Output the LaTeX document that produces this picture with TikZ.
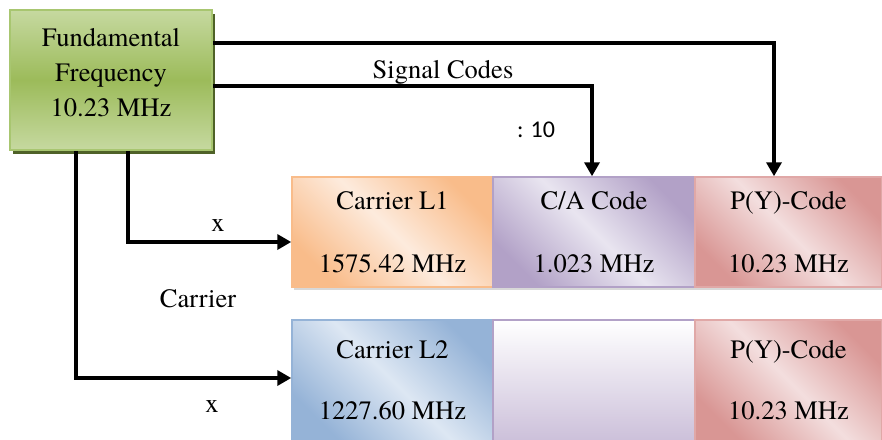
\documentclass[tikz,border=0pt]{standalone}
\usepackage{fontspec}
\IfFontExistsTF{texgyretermes-regular.otf}
  {\setmainfont{texgyretermes-regular.otf}}
  {\setmainfont{Latin Modern Roman}}
\newfontfamily\sansten{Carlito}
\usetikzlibrary{arrows.meta,shadows}
\definecolor{grnL}{HTML}{C6D9A0}
\definecolor{grnD}{HTML}{9CBB5A}
\definecolor{grnB}{HTML}{A8C670}
\definecolor{grnS}{HTML}{4F6228}
\definecolor{orD}{HTML}{F9BC8A}
\definecolor{orL}{HTML}{FDEBDD}
\definecolor{puD}{HTML}{B2A1C7}
\definecolor{puL}{HTML}{E9E5F0}
\definecolor{rdD}{HTML}{D99694}
\definecolor{rdL}{HTML}{F3DEDE}
\definecolor{rdB}{HTML}{E0A8A7}
\definecolor{blD}{HTML}{95B3D7}
\definecolor{blL}{HTML}{DDE7F3}
\definecolor{emB}{HTML}{CCC0DA}
\begin{document}
\begin{tikzpicture}[x=1pt,y=-1pt,
  font=\fontsize{26.5}{35}\selectfont,
  conn/.style={line width=4pt, line join=miter, -{Triangle[length=14pt,width=15pt]}},
  cellbox/.style={draw, line width=1.5pt, inner sep=0pt, align=center,
    minimum height=110pt, font=\fontsize{26.5}{63}\selectfont,
    drop shadow={shadow xshift=2pt, shadow yshift=-3pt, fill=black!30}},
  lowbox/.style={cellbox, minimum height=121pt, font=\fontsize{26.5}{61}\selectfont},
  diag/.style 2 args={left color=#1, right color=#1, middle color=#2, shading angle=-45},
  lbl/.style={inner sep=0pt}
]
\useasboundingbox (0,0) rectangle (882,439);

% fundamental frequency box
\node[draw=grnB, line width=1.5pt, minimum width=202pt, minimum height=140pt,
  top color=grnL, bottom color=grnL, middle color=grnD,
  drop shadow={shadow xshift=2.5pt, shadow yshift=-4pt, fill=grnS, opacity=1}]
  (fund) at (111,80) {};
\node[lbl, align=center] (fundtxt) at (111,73) {Fundamental\\Frequency\\10.23 MHz};

% row 1
\node[cellbox, draw=orD, minimum width=201pt, diag={orD}{orL}] (l1) at (392.5,232) {Carrier L1\\1575.42 MHz};
\node[cellbox, draw=puD, minimum width=202pt, diag={puD}{puL}] (ca) at (594,232) {C/A Code\\1.023 MHz};
\node[cellbox, draw=rdB, minimum width=187pt, diag={rdD}{rdL}] (py1) at (788.5,232) {P(Y)-Code\\10.23 MHz};

% row 2
\node[lowbox, draw=blD, minimum width=201pt, diag={blD}{blL}] (l2) at (392.5,380.5) {Carrier L2\\1227.60 MHz};
\node[lowbox, draw=puD, minimum width=202pt, top color=white, bottom color=emB] (mid) at (594,380.5) {};
\node[lowbox, draw=rdB, minimum width=187pt, diag={rdD}{rdL}] (py2) at (788.5,380.5) {P(Y)-Code\\10.23 MHz};

% connectors
\draw[conn] ([yshift=37pt]fund.east) -| ([xshift=-14.5pt]py1.north);
\draw[conn] ([yshift=-6pt]fund.east) -| ([xshift=-2pt]ca.north);
\draw[conn] ([xshift=17pt]fund.south) |- ([yshift=-10pt]l1.west);
\draw[conn] ([xshift=-35pt]fund.south) |- ([yshift=2.5pt]l2.west);

% labels
\node[lbl] (sigcodes) at (443,72) {Signal Codes};
\node[lbl, font=\sansten\fontsize{24}{28}\selectfont] (div) at (536,130) {: 10};
\node[lbl] (x1) at (218,226) {x};
\node[lbl] (carrier) at (198,299) {Carrier};
\node[lbl] (x2) at (212,407) {x};
\end{tikzpicture}
\end{document}
